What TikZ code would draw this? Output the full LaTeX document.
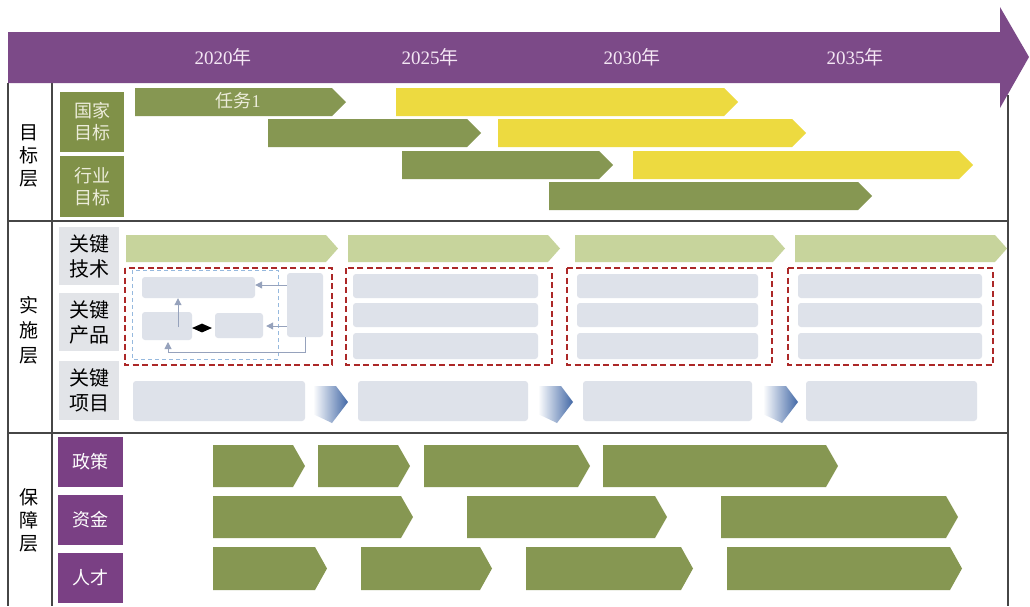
\documentclass[tikz,border=0pt]{standalone}
\usepackage{fontspec}
\setmainfont{Liberation Serif}
\newfontfamily\cjk{Noto Sans CJK SC}
\usetikzlibrary{arrows.meta,shapes.geometric}

\definecolor{barPurple}{RGB}{124,74,136}
\definecolor{boxPurple}{RGB}{122,64,132}
\definecolor{olive}{RGB}{134,151,82}
\definecolor{oliveBox}{RGB}{128,145,72}
\definecolor{goalYellow}{RGB}{237,218,64}
\definecolor{techGreen}{RGB}{199,212,156}
\definecolor{labelGrey}{RGB}{226,228,232}
\definecolor{slotGrey}{RGB}{222,226,234}
\definecolor{frameGrey}{RGB}{70,70,70}
\definecolor{dashRed}{RGB}{172,40,40}
\definecolor{dashBlue}{RGB}{150,185,222}
\definecolor{linkGrey}{RGB}{150,162,188}
\definecolor{chevBlue}{RGB}{66,104,166}
\definecolor{paleText}{RGB}{236,236,218}
\definecolor{yearText}{RGB}{244,230,244}

% pentagon bar: style, x start, x tip, y top, y bottom
\newcommand\tipdepth{13}
\newcommand\phasebar[5]{%
  \fill[#1] (#2,#4) -- ({#3-\tipdepth},#4) -- (#3,{(#4+#5)/2})
    -- ({#3-\tipdepth},#5) -- (#2,#5) -- cycle;}
% shaded chevron between project slots, x = left edge
\newcommand\chevron[1]{%
  \shade[left color=white, right color=chevBlue]
    (#1,386) -- ({#1+23},386) -- ({#1+35},402) -- ({#1+19},423) -- (#1,414) -- cycle;}

\tikzset{
  layertext/.style={font=\cjk\fontsize{19}{23}\selectfont, align=center, text=black},
  catbox/.style={inner sep=0pt, align=center},
  olivecat/.style={catbox, fill=oliveBox, text=paleText, font=\cjk\fontsize{18}{22}\selectfont},
  greycat/.style={catbox, fill=labelGrey, text=black, font=\cjk\fontsize{20}{25}\selectfont},
  purplecat/.style={catbox, fill=boxPurple, text=white, font=\cjk\fontsize{18}{22}\selectfont},
  yearlabel/.style={text=yearText, font=\fontsize{19}{22}\selectfont},
  slot/.style={fill=slotGrey, rounded corners=3pt, inner sep=0pt},
  reddash/.style={draw=dashRed, line width=1.8pt, dash pattern=on 6pt off 3.5pt},
  link/.style={draw=linkGrey, line width=1pt, -{Triangle[length=7pt,width=7pt]}},
  frame/.style={draw=frameGrey, line width=1.1pt}
}

\begin{document}
\begin{tikzpicture}[x=1pt,y=-1pt]
\useasboundingbox (0,0) rectangle (1030,606);
\fill[white] (0,0) rectangle (1030,606);

% frame of the three layers
\draw[frame] (8,83) -- (8,606);
\draw[frame] (52,83) -- (52,606);
\draw[frame] (1008,95) -- (1008,606);
\draw[frame] (8,221) -- (1008,221);
\draw[frame] (8,433) -- (1008,433);

% time axis
\fill[barPurple] (8,32) -- (1000,32) -- (1000,7) -- (1029,57) -- (1000,108)
  -- (1000,83) -- (8,83) -- cycle;
\node[yearlabel] (y2020) at (223,57) {2020{\cjk 年}};
\node[yearlabel] (y2025) at (430,57) {2025{\cjk 年}};
\node[yearlabel] (y2030) at (632,57) {2030{\cjk 年}};
\node[yearlabel] (y2035) at (855,57) {2035{\cjk 年}};

% layer titles
\node[layertext] (goalLayer) at (29,156) {目\\标\\层};
\node[layertext, font=\cjk\fontsize{19}{25}\selectfont] (implLayer) at (29,330) {实\\施\\层};
\node[layertext] (supLayer) at (29,520) {保\\障\\层};

% category boxes
\node[olivecat, minimum width=64pt, minimum height=60pt] (national) at (92,122) {国家\\目标};
\node[olivecat, minimum width=64pt, minimum height=61pt] (industry) at (92,186.5) {行业\\目标};
\node[greycat, minimum width=60pt, minimum height=58pt] (tech) at (89,256) {关键\\技术};
\node[greycat, minimum width=60pt, minimum height=58pt] (product) at (89,322) {关键\\产品};
\node[greycat, minimum width=60pt, minimum height=59pt] (project) at (89,390.5) {关键\\项目};
\node[purplecat, minimum width=65pt, minimum height=50pt] (policy) at (90.5,462) {政策};
\node[purplecat, minimum width=65pt, minimum height=50pt] (fund) at (90.5,520) {资金};
\node[purplecat, minimum width=65pt, minimum height=50pt] (talent) at (90.5,578) {人才};

% goal layer bars
\renewcommand\tipdepth{14}
\phasebar{olive}{135}{346}{88}{116}
\phasebar{goalYellow}{396}{738}{88}{116}
\phasebar{olive}{268}{481}{119}{147}
\phasebar{goalYellow}{498}{806}{119}{147}
\phasebar{olive}{402}{613}{151}{179}
\phasebar{goalYellow}{633}{973}{151}{179}
\phasebar{olive}{549}{872}{182}{210}
\node[text=paleText, font=\fontsize{18}{20}\selectfont] (task1) at (238,101) {{\cjk 任务}1};

% key technology bars
\renewcommand\tipdepth{12}
\phasebar{techGreen}{126}{338}{235}{262}
\phasebar{techGreen}{348}{560}{235}{262}
\phasebar{techGreen}{575}{785}{235}{262}
\phasebar{techGreen}{795}{1007}{235}{262}

% key product groups
\foreach \xa/\xb/\sa/\sb in {346/552/353/538, 567/772/577/758, 788/993/798/982}{
  \fill[slotGrey, rounded corners=3pt] (\sa,274) rectangle (\sb,298);
  \fill[slotGrey, rounded corners=3pt] (\sa,303) rectangle (\sb,327);
  \fill[slotGrey, rounded corners=3pt] (\sa,333) rectangle (\sb,359);
  \draw[reddash] (\xa,268) rectangle (\xb,365);
}

% first product group: small flow chart
\draw[draw=dashBlue, line width=1pt, dash pattern=on 4pt off 3pt] (132,270) rectangle (278,359);
\node[slot, minimum width=113pt, minimum height=21pt] (pa) at (198.5,287.5) {};
\node[slot, minimum width=50pt, minimum height=28pt] (pb) at (167,326) {};
\node[slot, minimum width=48pt, minimum height=25pt] (pc) at (239,325.5) {};
\node[slot, minimum width=36pt, minimum height=64pt] (pd) at (305,305) {};
\node[diamond, fill=black, inner sep=0pt, minimum width=20pt, minimum height=9pt] (pk) at (202,328) {};
\draw[link] (pd.west |- 0,285) -- (pa.east |- 0,285);
\draw[link] (pd.west |- 0,326) -- ([xshift=3pt]pc.east |- 0,326);
\draw[link] (178,327) -- (pa.south -| 178,0);
\draw[link] (pd.south) |- (168,352) -- (168,342);
\draw[reddash] (125,268) rectangle (332,365);

% key projects
\foreach \xa/\xb [count=\i] in {133/305, 358/528, 583/752, 806/977}{
  \node[slot, minimum width={\xb-\xa}, minimum height=40pt] (proj\i) at ({(\xa+\xb)/2},401) {};
}
\chevron{313}
\chevron{538}
\chevron{763}

% support layer bars
\renewcommand\tipdepth{12}
\phasebar{olive}{213}{305}{445}{487}
\phasebar{olive}{318}{410}{445}{487}
\phasebar{olive}{424}{590}{445}{487}
\phasebar{olive}{603}{838}{445}{487}
\phasebar{olive}{213}{413}{496}{538}
\phasebar{olive}{467}{667}{496}{538}
\phasebar{olive}{721}{958}{496}{538}
\phasebar{olive}{213}{327}{547}{590}
\phasebar{olive}{361}{492}{547}{590}
\phasebar{olive}{526}{693}{547}{590}
\phasebar{olive}{727}{962}{547}{590}
\end{tikzpicture}
\end{document}
